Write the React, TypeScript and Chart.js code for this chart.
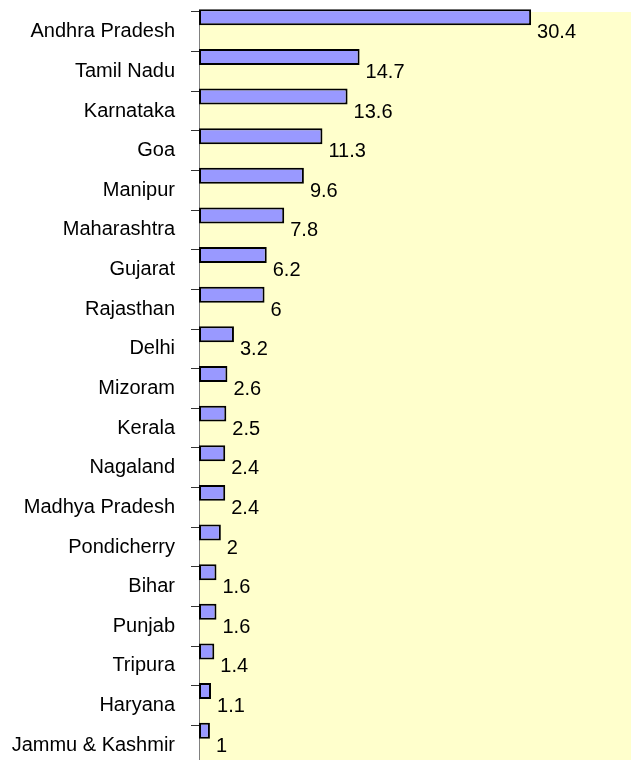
import React, { useEffect, useRef } from "react";
import { Chart, registerables } from "chart.js";

Chart.register(...registerables);

const categories = [
  "Andhra Pradesh",
  "Tamil Nadu",
  "Karnataka",
  "Goa",
  "Manipur",
  "Maharashtra",
  "Gujarat",
  "Rajasthan",
  "Delhi",
  "Mizoram",
  "Kerala",
  "Nagaland",
  "Madhya Pradesh",
  "Pondicherry",
  "Bihar",
  "Punjab",
  "Tripura",
  "Haryana",
  "Jammu & Kashmir",
];

const values = [30.4, 14.7, 13.6, 11.3, 9.6, 7.8, 6.2, 6, 3.2, 2.6, 2.5, 2.4, 2.4, 2, 1.6, 1.6, 1.4, 1.1, 1];
const valueLabels = ["30.4", "14.7", "13.6", "11.3", "9.6", "7.8", "6.2", "6", "3.2", "2.6", "2.5", "2.4", "2.4", "2", "1.6", "1.6", "1.4", "1.1", "1"];
const emptySeries = categories.map(() => 0);

const FONT = "'Liberation Sans', Arial, sans-serif";

export default function App() {
  const ref = useRef<HTMLCanvasElement | null>(null);

  useEffect(() => {
    const canvas = ref.current;
    if (!canvas) return;

    const bgPlugin = {
      id: "plotBg",
      beforeDraw(chart: any) {
        const { ctx, chartArea } = chart;
        ctx.save();
        ctx.fillStyle = "#FFFFCC";
        ctx.fillRect(chartArea.left, chartArea.top, chartArea.right - chartArea.left, chartArea.bottom - chartArea.top);
        ctx.restore();
      },
    };

    const labelPlugin = {
      id: "valueLabels",
      afterDatasetsDraw(chart: any) {
        const { ctx } = chart;
        const meta = chart.getDatasetMeta(0);
        const yScale = chart.scales.y;
        ctx.save();
        ctx.font = `20px ${FONT}`;
        ctx.fillStyle = "#000";
        ctx.textAlign = "left";
        ctx.textBaseline = "middle";
        meta.data.forEach((el: any, i: number) => {
          ctx.fillText(valueLabels[i], el.x + 6, yScale.getPixelForValue(i) + 1);
        });
        ctx.restore();
      },
    };

    const chart = new Chart(canvas, {
      type: "bar",
      data: {
        labels: categories,
        datasets: [
          {
            data: values,
            backgroundColor: "#9999FF",
            borderColor: "#000000",
            borderWidth: 2,
            borderSkipped: false,
            categoryPercentage: 1.465,
            barPercentage: 0.55,
            clip: false,
          },
          {
            data: emptySeries,
            backgroundColor: "rgba(0,0,0,0)",
            borderWidth: 0,
            categoryPercentage: 1.465,
            barPercentage: 0.55,
          },
        ],
      },
      options: {
        indexAxis: "y",
        responsive: false,
        animation: false,
        devicePixelRatio: 1,
        layout: { padding: { top: 12, left: 0, right: 0, bottom: 0 } },
        plugins: {
          legend: { display: false },
          tooltip: { enabled: false },
        },
        scales: {
          x: {
            display: false,
            min: 0,
            max: 40,
          },
          y: {
            type: "category",
            offset: true,
            grid: {
              offset: true,
              drawOnChartArea: false,
              drawTicks: true,
              tickLength: 8,
              color: "#333333",
            },
            border: { display: true, color: "#808080", width: 1 },
            ticks: {
              padding: 16,
              color: "#000",
              font: { family: FONT, size: 20 },
              autoSkip: false,
            },
            afterFit(scale: any) {
              scale.width = 199;
              scale.paddingTop = 0;
              scale.paddingBottom = 0;
            },
          },
        },
      },
      plugins: [bgPlugin, labelPlugin],
    } as any);

    return () => chart.destroy();
  }, []);

  return (
    <div style={{ position: "absolute", left: 0, top: 0, width: 631, height: 760, overflow: "hidden", background: "#fff" }}>
      <canvas ref={ref} width={636} height={765} style={{ width: 636, height: 765, display: "block" }} />
    </div>
  );
}
